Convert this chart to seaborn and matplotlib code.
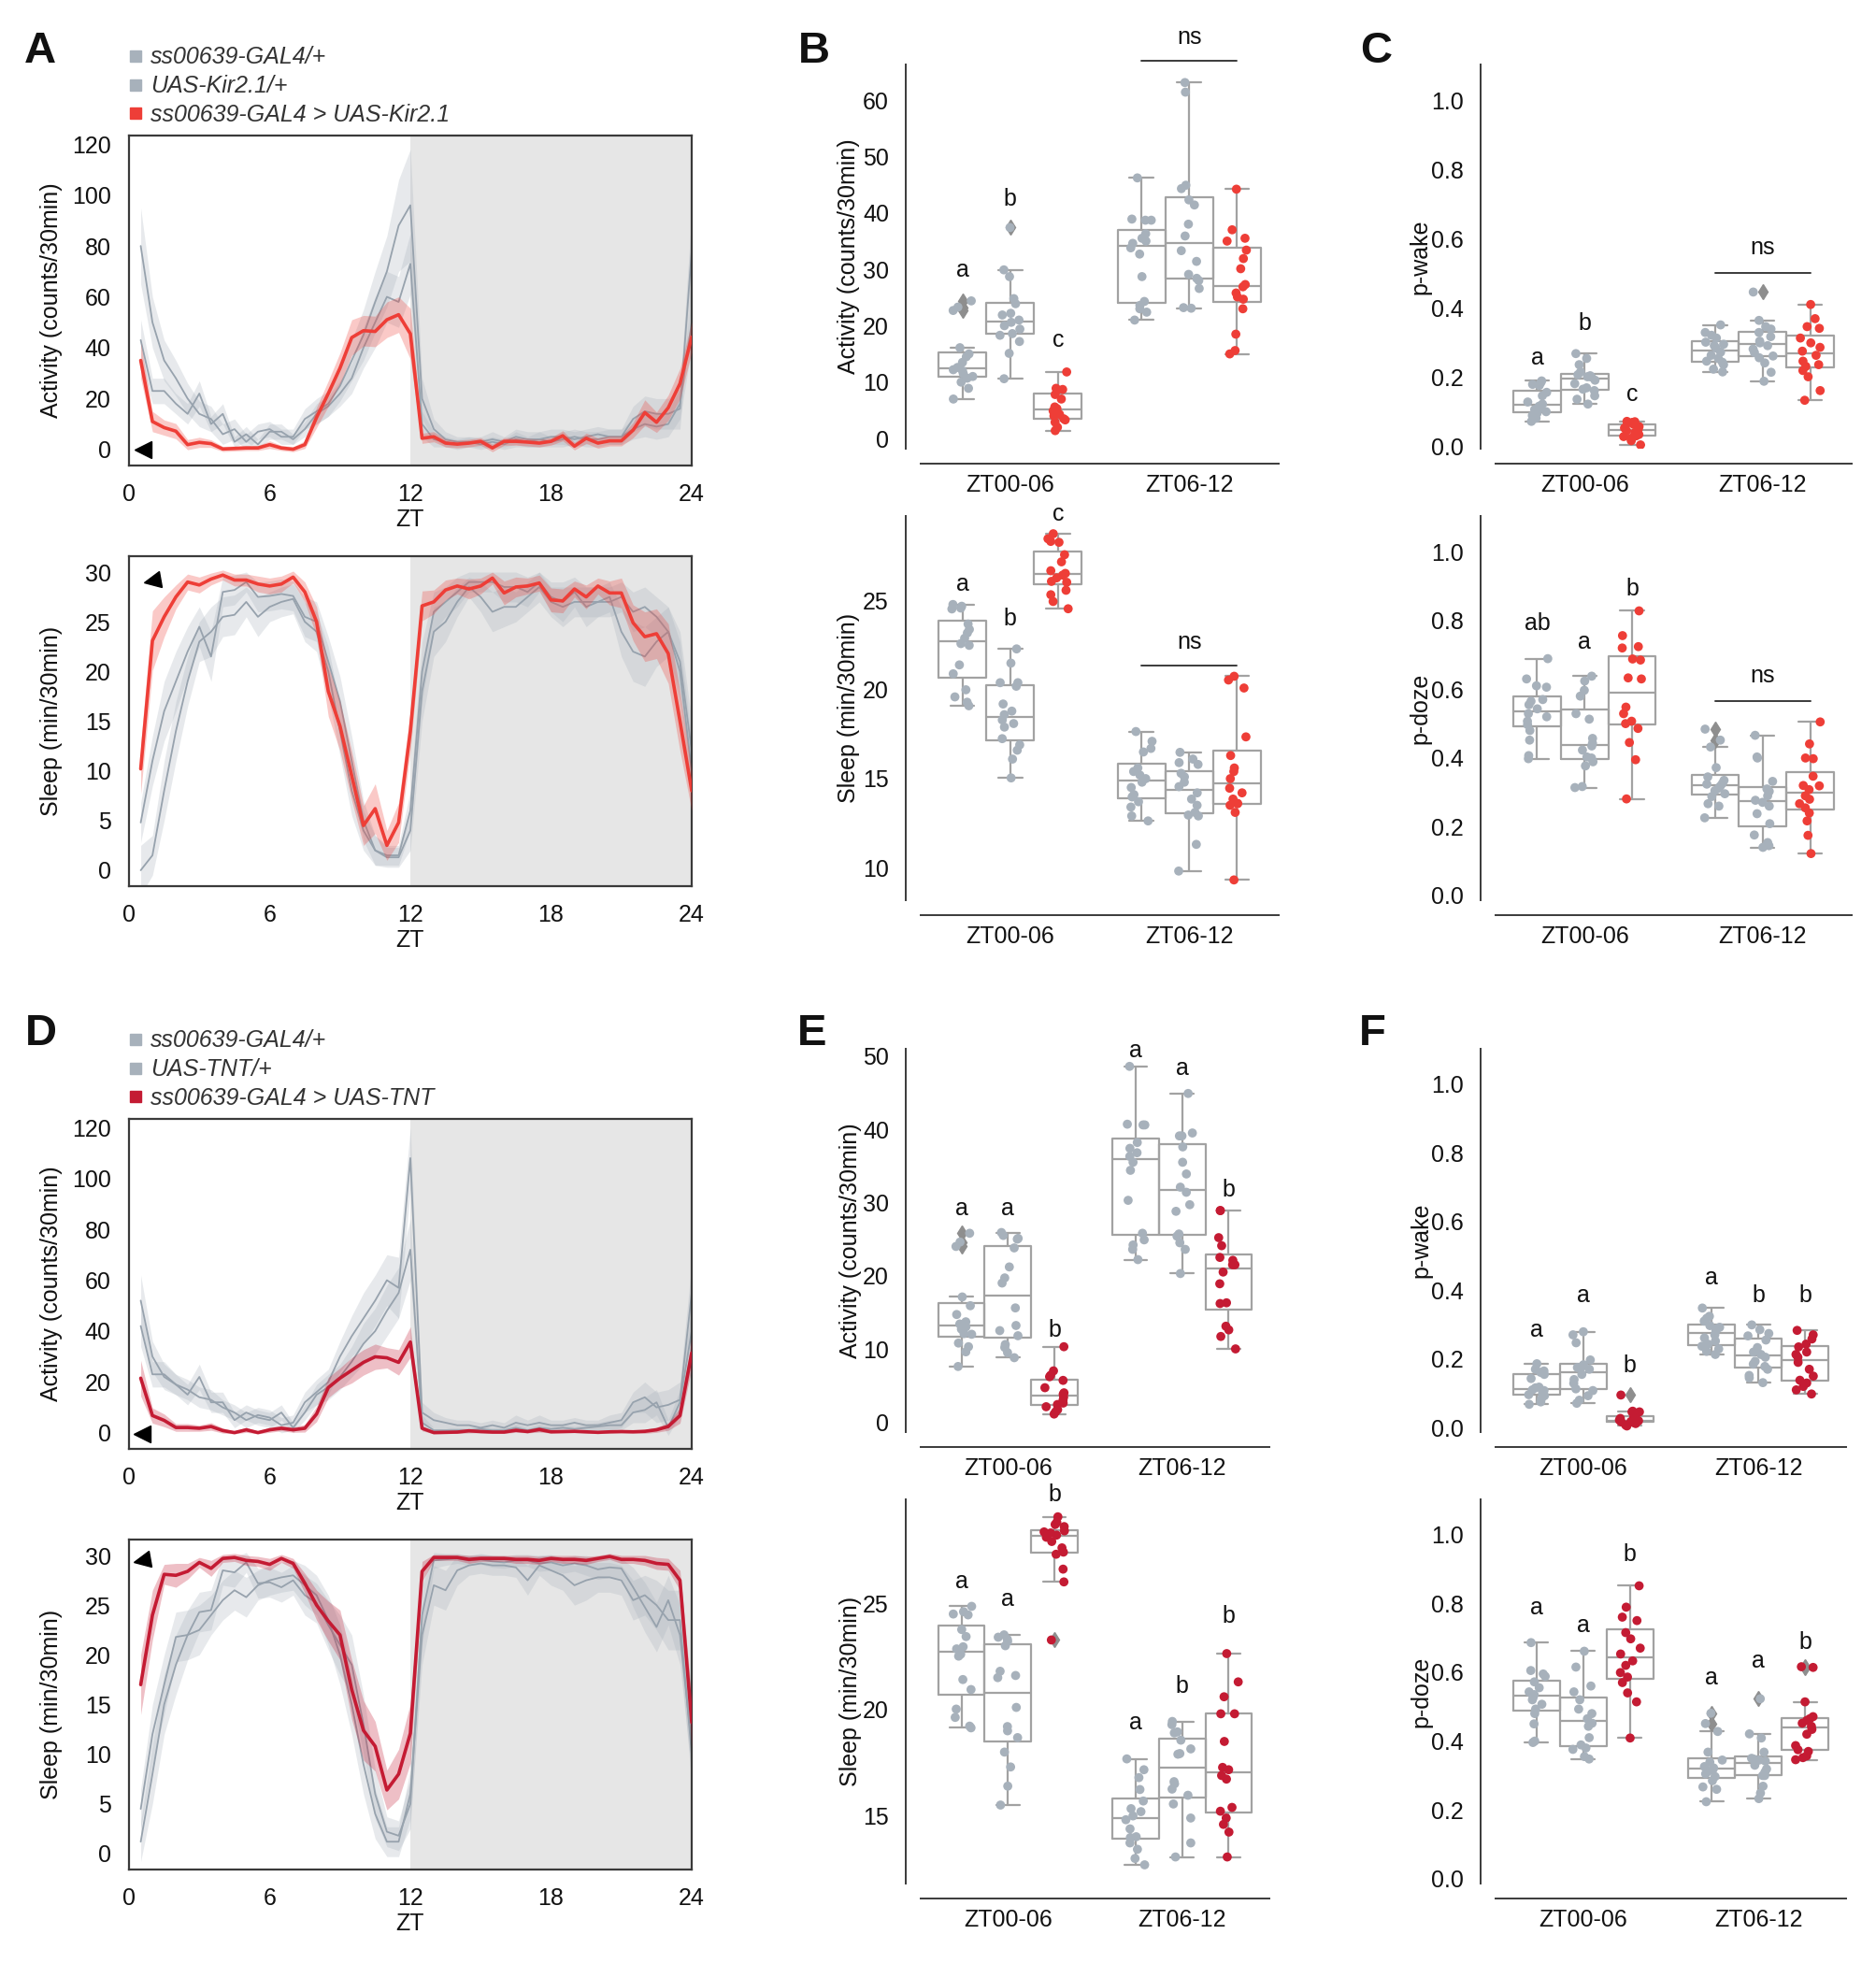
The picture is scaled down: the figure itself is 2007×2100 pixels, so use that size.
import numpy as np
import pandas as pd
import matplotlib
matplotlib.use("Agg")
import matplotlib.pyplot as plt
import seaborn as sns
from matplotlib.lines import Line2D
from matplotlib.markers import MarkerStyle
from matplotlib.transforms import Affine2D
from matplotlib.ticker import FormatStrFormatter

np.random.seed(7)

# ======================= DATA =======================
ZT = np.arange(1, 49) * 0.5          # 30-min bins, ZT 0.5 ... 24

PERIODS = ["ZT00-06", "ZT06-12"]
GENOS = ["GAL4/+", "UAS/+", "GAL4>UAS"]

kir_labels = ["ss00639-GAL4/+", "UAS-Kir2.1/+", "ss00639-GAL4 > UAS-Kir2.1"]
tnt_labels = ["ss00639-GAL4/+", "UAS-TNT/+", "ss00639-GAL4 > UAS-TNT"]

# ---- Kir2.1 activity time course (counts/30min) ----
kir_act_g = [80, 50, 35, 28, 20, 14, 12, 6, 8, 3, 7, 8, 5, 5, 12, 15, 18, 25, 35, 45, 58, 70, 88, 96,
             20, 8, 4, 3, 3, 3, 4, 3, 5, 4, 4, 5, 5, 4, 5, 6, 5, 5, 12, 15, 14, 14, 16, 78]
kir_act_g_sem = [15, 10, 8, 7, 6, 5, 5, 4, 4, 3, 3, 3, 3, 3, 4, 5, 5, 6, 8, 10, 12, 14, 18, 22,
                 8, 4, 3, 2, 2, 2, 3, 2, 3, 3, 3, 3, 3, 3, 3, 3, 3, 3, 5, 6, 6, 6, 8, 15]
kir_act_u = [43, 23, 23, 18, 14, 22, 10, 14, 3, 6, 2, 7, 7, 4, 8, 14, 17, 22, 28, 40, 50, 60, 58, 73,
             10, 4, 3, 2, 3, 2, 3, 2, 4, 3, 4, 3, 4, 5, 4, 4, 5, 5, 8, 10, 9, 10, 18, 50]
kir_act_u_sem = [8, 5, 5, 4, 4, 5, 3, 4, 2, 3, 2, 3, 3, 2, 3, 4, 4, 5, 6, 8, 10, 10, 10, 12,
                 5, 3, 2, 2, 2, 2, 2, 2, 3, 2, 3, 2, 3, 3, 3, 3, 3, 3, 4, 5, 5, 5, 6, 10]
kir_act_x = [35, 11, 8.6, 7.2, 1.9, 2.8, 2.3, 0.2, 0.4, 0.6, 0.6, 1.9, 0.6, 0.1, 1.9, 12.6, 22, 32, 44,
             46.7, 46.4, 51, 53, 45.5, 4.4, 5.0, 2.5, 2.1, 2.5, 3.2, 0.6, 3.2, 3.2, 2.9, 2.5, 3.2, 5.4,
             1.3, 4.4, 2.5, 3.4, 3.4, 7.6, 14.5, 10.7, 16.4, 25.9, 44.2]
kir_act_x_sem = [7, 4, 3, 3, 2, 2, 1.5, 1, 1, 1, 1, 1.5, 1, 1, 1.5, 4, 5, 6, 7, 6, 6, 7, 7, 10,
                 2, 2, 1.5, 1.5, 1.5, 1.5, 1.5, 1.5, 1.5, 1.5, 1.5, 1.5, 2, 1.5, 2, 2, 2, 2, 3, 5, 4, 5, 6, 6]

# ---- Kir2.1 sleep time course (min/30min) ----
kir_slp_g = [0.0, 1.5, 8, 14, 19, 23, 24, 25.5, 25.7, 27, 25.5, 26.5, 27, 27.3, 25, 24, 20, 14, 8, 4,
             2, 1.3, 1.3, 4, 18, 24, 25, 27, 28.5, 27.5, 26, 26.5, 26.5, 27.5, 28.5, 27, 26.5, 27, 27,
             27, 27.5, 24, 22, 21.5, 23, 24, 20, 10]
kir_slp_g_sem = [2.5, 2, 3, 3, 2.5, 2, 2.5, 2, 2, 1.5, 2, 1.5, 1.5, 1.5, 2, 2, 2.5, 2.5, 2.5, 2, 1.5, 1,
                 1, 2, 3, 2.5, 2, 1.5, 1, 1.5, 2, 2, 1.5, 1.5, 1.5, 1.5, 2, 1.5, 1.5, 1.5, 1.5, 2.5, 3,
                 3, 2.5, 2.5, 3, 3]
kir_slp_u = [4.8, 11, 16, 19, 22, 24.5, 21.5, 28, 28.2, 29, 27.5, 27.6, 27.8, 27.6, 25.5, 25, 21, 17,
             11, 5, 2, 1.5, 1.5, 6, 20, 26, 27, 28, 29, 29, 29, 28.5, 28.5, 28, 29, 27.5, 27, 28, 26.5,
             27, 27, 27.5, 26, 26.5, 25.5, 24, 21, 12]
kir_slp_u_sem = [2, 2.5, 3, 3, 2.5, 2, 2.5, 1.5, 1.5, 1, 1.5, 1.5, 1.5, 1.5, 2, 2, 2.5, 2.5, 2.5, 2,
                 1.5, 1, 1, 2, 3, 2, 1.5, 1.5, 1, 1, 1, 1.5, 1.5, 1.5, 1, 1.5, 2, 1.5, 2, 1.5, 1.5, 1.5,
                 2, 2, 2, 2.5, 3, 3]
kir_slp_x = [10.2, 23.1, 25.5, 27.5, 29.0, 28.7, 29.3, 29.7, 29.2, 29.2, 28.8, 28.6, 28.8, 29.5, 28.0,
             25.0, 18.0, 14.5, 9.5, 4.5, 6.2, 2.5, 4.8, 14.0, 26.6, 27.0, 28.2, 28.6, 28.3, 28.6, 29.4,
             27.9, 28.5, 28.6, 28.9, 27.2, 27.1, 28.3, 27.5, 28.6, 27.9, 27.9, 24.9, 23.5, 23.8, 21.8,
             15.0, 8.0]
kir_slp_x_sem = [2.5, 3, 2, 1.2, 0.8, 0.8, 0.6, 0.5, 0.6, 0.6, 0.8, 0.8, 0.8, 0.6, 1.0, 1.5, 2.5, 2.5,
                 2.5, 2.0, 2.5, 1.5, 2.0, 2.0, 1.5, 1.2, 1.0, 0.8, 1.0, 0.8, 0.6, 1.2, 1.0, 0.8, 0.8,
                 1.2, 1.2, 0.8, 1.2, 0.8, 1.2, 1.5, 1.8, 2.5, 2.5, 3.0, 3.0, 2.0]

# ---- TNT activity time course ----
tnt_act_g = [52, 30, 22, 19, 17, 14, 13, 10, 8, 5, 7, 6, 3, 4, 12, 16, 20, 30, 38, 45, 52, 60, 57, 108,
             8, 5, 4, 3, 3, 2, 3, 2, 4, 3, 4, 3, 3, 4, 3, 3, 4, 5, 12, 14, 10, 11, 13, 55]
tnt_act_g_sem = [10, 6, 5, 4, 4, 4, 4, 3, 3, 3, 3, 3, 3, 3, 4, 5, 5, 6, 8, 10, 10, 10, 12, 12,
                 4, 3, 2, 2, 2, 2, 2, 2, 3, 2, 3, 2, 2, 2, 2, 2, 3, 3, 4, 6, 6, 6, 7, 12]
tnt_act_u = [42, 23, 23, 19, 15, 22, 12, 12, 5, 8, 6, 5, 8, 2, 8, 15, 18, 22, 28, 35, 40, 48, 55, 72,
             4, 1, 1, 1, 1, 1.5, 1, 1, 2, 1, 2, 1.5, 2, 1.5, 2, 2.5, 3, 3, 8, 9, 12, 2, 12, 40]
tnt_act_u_sem = [8, 5, 5, 4, 4, 5, 4, 4, 3, 3, 3, 3, 3, 2, 3, 4, 5, 5, 6, 8, 9, 10, 10, 12,
                 3, 1, 1, 1, 1, 1, 1, 1, 1.5, 1, 1.5, 1, 1.5, 1, 1.5, 1.5, 2, 2, 4, 5, 5, 3, 5, 10]
tnt_act_x = [21.5, 6.8, 4.9, 2.1, 2.1, 1.8, 2.5, 0.9, 0.1, 1.2, 0.1, 1.2, 1.8, 1.2, 1.8, 7.4, 17.8,
             21.5, 24.6, 27.7, 29.9, 29.5, 27.7, 35.7, 1.8, 0.1, 0.2, 0.3, 0.8, 0.5, 0.3, 0.3, 1.0, 0.5,
             1.3, 0.4, 0.5, 0.6, 0.4, 0.2, 0.4, 0.5, 0.4, 0.6, 1.2, 2.5, 6.8, 31.4]
tnt_act_x_sem = [7, 3, 2.5, 1.5, 1.5, 1.2, 1.5, 1, 0.5, 1, 0.5, 1, 1, 1, 1.5, 3, 4, 4, 5, 5, 5, 4, 5, 6,
                 1, 0.5, 0.5, 0.5, 0.8, 0.5, 0.5, 0.5, 0.8, 0.5, 1, 0.5, 0.5, 0.5, 0.5, 0.5, 0.5, 0.5,
                 0.5, 0.8, 1, 1.5, 3, 6]

# ---- TNT sleep time course ----
tnt_slp_g = [1.2, 8, 15, 19, 22, 22.5, 24, 25.5, 26.5, 25.8, 27, 27.5, 27.8, 28, 27, 26, 23.5, 20, 15,
             9, 4, 1.2, 1.2, 6, 22, 27, 26.5, 28.5, 29, 29.2, 29, 29, 28.8, 27.5, 29, 28.5, 28, 27, 27.5,
             27.8, 27.8, 27.5, 25.5, 26, 25, 23.5, 23.5, 10]
tnt_slp_g_sem = [2, 3, 3, 3, 2.5, 2.5, 2, 2, 2, 2, 1.5, 1.5, 1.5, 1.5, 2, 2, 2.5, 3, 3, 3, 2.5, 1.5,
                 1.5, 2.5, 3, 2, 2, 1.5, 1, 1, 1, 1, 1, 1.5, 1, 1.5, 1.5, 2, 2, 1.5, 1.5, 1.5, 2, 2,
                 2.5, 3, 3, 3]
tnt_slp_u = [4.5, 12, 17, 21.8, 22, 24.3, 24.5, 28.5, 28.3, 29.3, 27.2, 27.3, 26.8, 27.5, 26, 25.2, 23,
             21, 19, 13, 6, 2.2, 1.8, 5, 24, 29.5, 29.6, 29.7, 29.5, 29.6, 29.4, 29.3, 29.5, 29.5, 29.2,
             29.3, 29.0, 29.2, 29.0, 28.6, 28.8, 28.7, 26.8, 24.8, 22.8, 25.5, 22, 11]
tnt_slp_u_sem = [2, 3, 3, 2.5, 2.5, 2, 2, 1.5, 1.5, 1, 1.5, 1.5, 1.5, 1.5, 2, 2, 2.5, 3, 3, 3, 2.5, 1.5,
                 1.5, 2.5, 3, 0.8, 0.6, 0.5, 0.5, 0.5, 0.6, 0.6, 0.6, 0.6, 0.8, 0.8, 0.8, 0.8, 1, 1, 1,
                 1, 2, 2.5, 2.5, 2.5, 3, 3]
tnt_slp_x = [17, 24, 28.1, 28, 28.4, 29.3, 28.7, 29.7, 29.8, 29.5, 29.4, 29.1, 29.7, 29.2, 27.2, 25,
             23.4, 22, 16.5, 12.4, 10.8, 6.4, 8.0, 12.1, 28.4, 29.8, 29.8, 29.8, 29.6, 29.7, 29.7, 29.7,
             29.6, 29.6, 29.5, 29.7, 29.6, 29.6, 29.5, 29.7, 29.9, 29.6, 29.6, 29.5, 29.2, 29.1, 27.5,
             13.2]
tnt_slp_x_sem = [3, 2.5, 1, 1.2, 0.8, 0.5, 0.8, 0.4, 0.4, 0.5, 0.5, 0.6, 0.4, 0.5, 1, 1.5, 2, 2.5, 3, 3,
                 2.5, 2, 2.5, 3, 1, 0.3, 0.3, 0.3, 0.4, 0.3, 0.3, 0.3, 0.4, 0.4, 0.4, 0.3, 0.4, 0.4,
                 0.4, 0.3, 0.3, 0.4, 0.4, 0.5, 0.6, 0.6, 1.0, 2.5]

# ---- per-fly values: Kir2.1 ----
kir_act_00_g = [7.0, 8.9, 10.0, 10.7, 11.0, 11.5, 12.0, 12.2, 12.6, 13.5, 14.5, 15.0, 16.1, 22.7, 23.3, 24.4]
kir_act_00_u = [10.6, 15.1, 17.2, 18.3, 18.6, 19.4, 20.0, 20.6, 21.0, 21.9, 22.2, 23.9, 24.8, 28.7, 29.9, 37.4]
kir_act_00_x = [1.4, 2.0, 2.9, 3.3, 3.5, 4.0, 4.3, 4.9, 5.3, 5.6, 7.0, 7.8, 8.6, 8.7, 8.9, 11.8]
kir_act_06_g = [21.0, 22.4, 23.0, 23.6, 24.3, 28.7, 32.7, 33.8, 34.6, 35.0, 35.5, 36.3, 38.7, 38.7, 38.9, 46.2]
kir_act_06_u = [23.1, 23.2, 26.6, 28.0, 28.4, 29.1, 31.4, 33.3, 35.9, 38.0, 41.4, 42.3, 44.3, 44.9, 61.4, 63.1]
kir_act_06_x = [15.0, 15.6, 18.5, 23.0, 24.7, 25.1, 25.8, 26.9, 27.3, 30.1, 31.9, 33.4, 35.0, 35.5, 37.0, 44.2]

kir_slp_00_g = [19.1, 19.3, 19.6, 20.0, 20.9, 21.4, 22.5, 22.6, 22.9, 23.2, 23.4, 23.7, 24.55, 24.6, 24.7, 24.8]
kir_slp_00_u = [15.04, 16.1, 16.6, 16.9, 17.25, 17.9, 18.1, 18.3, 18.6, 18.8, 19.2, 20.2, 20.4, 20.4, 21.5, 22.3]
kir_slp_00_x = [24.56, 24.97, 25.35, 25.6, 26.05, 26.1, 26.3, 26.45, 26.55, 26.7, 27.2, 27.6, 28.3, 28.35, 28.5, 28.78]
kir_slp_06_g = [12.62, 12.9, 13.4, 13.7, 13.97, 14.1, 14.5, 14.8, 15.0, 15.2, 15.4, 15.6, 16.5, 16.7, 17.1, 17.65]
kir_slp_06_u = [9.8, 11.3, 12.9, 12.95, 13.1, 13.5, 13.85, 14.2, 14.55, 14.8, 15.1, 15.3, 15.8, 15.9, 16.1, 16.48]
kir_slp_06_x = [9.3, 13.1, 13.5, 13.6, 13.6, 13.85, 14.2, 14.46, 15.0, 15.4, 15.6, 16.3, 17.35, 20.1, 20.55, 20.76]

kir_wake_00_g = [0.071, 0.080, 0.088, 0.095, 0.099, 0.105, 0.110, 0.115, 0.121, 0.127, 0.145, 0.155, 0.175, 0.178, 0.183, 0.188]
kir_wake_00_u = [0.121, 0.135, 0.145, 0.160, 0.164, 0.168, 0.180, 0.190, 0.199, 0.200, 0.203, 0.206, 0.214, 0.235, 0.253, 0.267]
kir_wake_00_x = [0.003, 0.015, 0.022, 0.027, 0.029, 0.033, 0.038, 0.044, 0.048, 0.052, 0.056, 0.062, 0.066, 0.068, 0.070, 0.071]
kir_wake_06_g = [0.214, 0.222, 0.235, 0.242, 0.245, 0.253, 0.262, 0.271, 0.283, 0.290, 0.294, 0.300, 0.312, 0.320, 0.328, 0.350]
kir_wake_06_u = [0.187, 0.213, 0.240, 0.255, 0.260, 0.270, 0.280, 0.290, 0.298, 0.303, 0.316, 0.328, 0.338, 0.345, 0.363, 0.445]
kir_wake_06_x = [0.132, 0.160, 0.200, 0.218, 0.230, 0.235, 0.245, 0.262, 0.274, 0.285, 0.298, 0.312, 0.340, 0.345, 0.368, 0.409]

kir_doze_00_g = [0.398, 0.407, 0.452, 0.480, 0.497, 0.507, 0.520, 0.529, 0.543, 0.555, 0.565, 0.570, 0.606, 0.610, 0.630, 0.689]
kir_doze_00_u = [0.314, 0.317, 0.377, 0.389, 0.400, 0.403, 0.423, 0.435, 0.443, 0.457, 0.513, 0.529, 0.580, 0.597, 0.624, 0.638]
kir_doze_00_x = [0.281, 0.395, 0.445, 0.486, 0.500, 0.507, 0.529, 0.548, 0.630, 0.633, 0.685, 0.688, 0.720, 0.724, 0.756, 0.828]
kir_doze_06_g = [0.226, 0.260, 0.267, 0.288, 0.296, 0.305, 0.312, 0.318, 0.324, 0.326, 0.335, 0.345, 0.372, 0.432, 0.452, 0.484]
kir_doze_06_u = [0.140, 0.145, 0.154, 0.176, 0.209, 0.238, 0.260, 0.271, 0.277, 0.290, 0.303, 0.310, 0.332, 0.400, 0.403, 0.466]
kir_doze_06_x = [0.122, 0.175, 0.217, 0.240, 0.255, 0.267, 0.280, 0.290, 0.308, 0.319, 0.320, 0.347, 0.398, 0.400, 0.441, 0.505]

# ---- per-fly values: TNT ----
tnt_act_00_g = [7.6, 9.6, 10.3, 10.8, 12.0, 12.1, 12.7, 13.0, 13.4, 13.7, 14.7, 15.9, 17.1, 24.0, 24.6, 25.8]
tnt_act_00_u = [8.8, 9.5, 10.2, 10.6, 11.8, 12.5, 13.2, 15.6, 19.0, 19.7, 21.2, 23.8, 25.0, 25.1, 25.5, 25.9]
tnt_act_00_x = [1.1, 1.4, 1.7, 2.1, 2.4, 2.6, 3.0, 3.4, 3.8, 4.0, 4.7, 5.7, 6.2, 6.4, 7.0, 10.3]
tnt_act_06_g = [22.2, 23.6, 24.2, 24.9, 25.8, 30.3, 34.4, 35.5, 36.3, 36.8, 37.4, 38.2, 40.6, 40.6, 40.7, 48.6]
tnt_act_06_u = [20.3, 23.6, 24.5, 25.4, 25.7, 28.8, 29.7, 31.4, 32.1, 33.9, 35.5, 37.6, 39.1, 39.1, 39.5, 44.9]
tnt_act_06_x = [10.0, 11.7, 12.6, 13.1, 16.2, 16.3, 18.9, 20.5, 21.5, 21.5, 22.1, 22.5, 24.1, 25.2, 28.9, 28.9]

tnt_slp_00_g = [19.14, 19.22, 19.63, 20.02, 20.94, 21.41, 22.51, 22.6, 22.85, 22.95, 23.43, 23.76, 24.45, 24.49, 24.6, 24.85]
tnt_slp_00_u = [15.51, 16.4, 17.3, 18.0, 18.68, 19.0, 19.2, 20.1, 21.5, 21.6, 21.8, 23.0, 23.2, 23.3, 23.4, 23.51]
tnt_slp_00_x = [23.27, 26.0, 26.6, 27.3, 27.4, 27.6, 27.9, 28.1, 28.2, 28.3, 28.35, 28.4, 28.6, 28.7, 28.8, 29.06]
tnt_slp_06_g = [12.7, 13.0, 13.43, 13.73, 13.98, 14.02, 14.39, 14.82, 15.0, 15.2, 15.34, 15.7, 16.24, 16.8, 17.17, 17.68]
tnt_slp_06_u = [13.07, 13.73, 14.9, 15.56, 15.97, 16.26, 16.51, 16.61, 17.9, 17.93, 18.15, 18.56, 18.9, 18.95, 19.29, 19.44]
tnt_slp_06_x = [13.07, 14.24, 14.6, 14.9, 15.22, 15.4, 16.73, 16.9, 17.17, 17.28, 18.5, 19.8, 19.8, 20.6, 21.3, 22.63]

tnt_wake_00_g = [0.068, 0.075, 0.084, 0.093, 0.096, 0.100, 0.108, 0.110, 0.116, 0.118, 0.143, 0.155, 0.161, 0.165, 0.170, 0.186]
tnt_wake_00_u = [0.071, 0.080, 0.093, 0.108, 0.113, 0.129, 0.140, 0.155, 0.170, 0.175, 0.179, 0.183, 0.197, 0.247, 0.270, 0.279]
tnt_wake_00_x = [0.005, 0.008, 0.012, 0.015, 0.017, 0.018, 0.019, 0.020, 0.022, 0.024, 0.027, 0.030, 0.046, 0.046, 0.048, 0.095]
tnt_wake_06_g = [0.213, 0.222, 0.229, 0.237, 0.243, 0.252, 0.261, 0.270, 0.282, 0.288, 0.292, 0.297, 0.310, 0.318, 0.324, 0.348]
tnt_wake_06_u = [0.131, 0.145, 0.152, 0.170, 0.178, 0.185, 0.193, 0.205, 0.213, 0.220, 0.233, 0.255, 0.267, 0.274, 0.285, 0.299]
tnt_wake_06_x = [0.098, 0.110, 0.120, 0.130, 0.138, 0.150, 0.170, 0.190, 0.205, 0.213, 0.220, 0.235, 0.243, 0.258, 0.270, 0.283]

tnt_doze_00_g = [0.396, 0.400, 0.450, 0.480, 0.493, 0.507, 0.520, 0.527, 0.535, 0.543, 0.555, 0.572, 0.588, 0.595, 0.605, 0.686]
tnt_doze_00_u = [0.348, 0.355, 0.376, 0.380, 0.389, 0.410, 0.443, 0.452, 0.465, 0.480, 0.493, 0.520, 0.543, 0.560, 0.615, 0.661]
tnt_doze_00_x = [0.409, 0.514, 0.540, 0.570, 0.586, 0.599, 0.620, 0.633, 0.653, 0.670, 0.697, 0.715, 0.750, 0.760, 0.789, 0.851]
tnt_doze_06_g = [0.224, 0.260, 0.267, 0.285, 0.297, 0.305, 0.312, 0.317, 0.322, 0.326, 0.339, 0.345, 0.368, 0.428, 0.451, 0.481]
tnt_doze_06_u = [0.233, 0.249, 0.269, 0.300, 0.300, 0.310, 0.319, 0.330, 0.342, 0.345, 0.348, 0.350, 0.368, 0.409, 0.421, 0.523]
tnt_doze_06_x = [0.346, 0.352, 0.357, 0.370, 0.375, 0.387, 0.420, 0.434, 0.443, 0.452, 0.460, 0.465, 0.471, 0.514, 0.614, 0.616]

# significance letters: (period index, genotype index, text, y)
kir_act_letters = [(0, 0, "a", 29.9), (0, 1, "b", 42.5), (0, 2, "c", 17.5)]
kir_slp_letters = [(0, 0, "a", 25.93), (0, 1, "b", 24.0), (0, 2, "c", 29.87)]
kir_wake_letters = [(0, 0, "a", 0.253), (0, 1, "b", 0.354), (0, 2, "c", 0.150)]
kir_doze_letters = [(0, 0, "ab", 0.792), (0, 1, "a", 0.737), (0, 2, "b", 0.893)]
tnt_act_letters = [(0, 0, "a", 29.2), (0, 1, "a", 29.2), (0, 2, "b", 12.5),
                   (1, 0, "a", 50.8), (1, 1, "a", 48.3), (1, 2, "b", 31.7)]
tnt_slp_letters = [(0, 0, "a", 26.02), (0, 1, "a", 25.18), (0, 2, "b", 30.12),
                   (1, 0, "a", 19.39), (1, 1, "b", 21.08), (1, 2, "b", 24.37)]
tnt_wake_letters = [(0, 0, "a", 0.283), (0, 1, "a", 0.385), (0, 2, "b", 0.181),
                    (1, 0, "a", 0.435), (1, 1, "b", 0.385), (1, 2, "b", 0.385)]
tnt_doze_letters = [(0, 0, "a", 0.787), (0, 1, "a", 0.735), (0, 2, "b", 0.941),
                    (1, 0, "a", 0.584), (1, 1, "a", 0.633), (1, 2, "b", 0.686)]

# ======================= STYLE =======================
sns.set_theme(style="white")
plt.rcParams["font.family"] = ["Liberation Sans", "DejaVu Sans"]
plt.rcParams["text.color"] = "#111111"
plt.rcParams["axes.labelcolor"] = "#111111"
plt.rcParams["xtick.color"] = "#111111"
plt.rcParams["ytick.color"] = "#111111"

GRAY_LINE = "#97A2AD"
GRAY_BAND = "#A9B3BD"
GRAY_PT = "#A7B1BB"
RED_KIR = "#EE3E37"
RED_TNT = "#C41B33"
BOX_C = "#A2A2A2"
FLIER_C = "#8E8E8E"
SPINE_C = "#3A3A3A"

W, H = 2008, 2100
fig = plt.figure(figsize=(W / 100, H / 100), dpi=100)


def rect(l, t, r, b):
    return [l / W, 1 - b / H, (r - l) / W, (b - t) / H]


def ts_panel(ax, series, ylim, yticks, ylabel, tri_xy, tri_rot):
    ax.axvspan(12, 24, color="#E6E6E6", lw=0, zorder=0)
    for mean, sem, col, band, lw, z in series:
        m = np.asarray(mean, float)
        s = np.asarray(sem, float)
        ax.fill_between(ZT, m - s, m + s, color=band, alpha=0.28, lw=0, zorder=z)
        sns.lineplot(x=ZT, y=m, color=col, linewidth=lw, ax=ax, zorder=z + 0.5)
    ax.set_xlim(0, 24)
    ax.set_ylim(*ylim)
    ax.set_xticks([0, 6, 12, 18, 24])
    ax.set_yticks(yticks)
    ax.tick_params(axis="both", length=0, labelsize=18)
    ax.tick_params(axis="x", pad=14)
    ax.tick_params(axis="y", pad=14)
    ax.set_xlabel("ZT", fontsize=18, labelpad=2)
    ax.set_ylabel(ylabel, fontsize=18)
    ax.yaxis.set_label_coords(-0.118, 0.5)
    for sp in ax.spines.values():
        sp.set_visible(True)
        sp.set_color(SPINE_C)
        sp.set_linewidth(1.6)
    mk = MarkerStyle("<", transform=Affine2D().rotate_deg(tri_rot))
    ax.plot([tri_xy[0]], [tri_xy[1]], marker=mk, ms=13, color="black", ls="",
            clip_on=False, zorder=6)


def box_panel(ax, groups, red, ylim, yticks, ylabel, letters, ns=None, fmt=None, ylab_x=-0.17):
    rows = []
    for pi, p in enumerate(PERIODS):
        for gi, g in enumerate(GENOS):
            for v in groups[pi][gi]:
                rows.append((p, g, v))
    df = pd.DataFrame(rows, columns=["period", "geno", "value"])
    sns.boxplot(data=df, x="period", y="value", hue="geno", order=PERIODS, hue_order=GENOS,
                palette=[BOX_C, BOX_C, BOX_C], fill=False, width=0.8, gap=0, linewidth=1.6,
                flierprops=dict(marker="d", markerfacecolor=FLIER_C, markeredgecolor=FLIER_C,
                                markersize=8),
                legend=False, ax=ax)
    sns.stripplot(data=df, x="period", y="value", hue="geno", order=PERIODS, hue_order=GENOS,
                  palette={GENOS[0]: GRAY_PT, GENOS[1]: GRAY_PT, GENOS[2]: red},
                  dodge=True, jitter=0.18, size=7, linewidth=0, legend=False, ax=ax, zorder=3)
    ax.set_xlim(-0.5, 1.5)
    ax.set_ylim(*ylim)
    ax.set_yticks(yticks)
    if fmt:
        ax.yaxis.set_major_formatter(FormatStrFormatter(fmt))
    ax.set_xlabel("")
    ax.set_ylabel(ylabel, fontsize=18)
    ax.yaxis.set_label_coords(ylab_x, 0.5)
    ax.tick_params(axis="y", length=0, labelsize=18, pad=13)
    ax.tick_params(axis="x", length=0, labelsize=18, pad=8)
    sns.despine(ax=ax, offset=11.5)
    for side in ("left", "bottom"):
        ax.spines[side].set_color(SPINE_C)
        ax.spines[side].set_linewidth(1.4)
    off = 0.8 / 3
    for pi, gi, txt, y in letters:
        ax.text(pi + (gi - 1) * off, y, txt, ha="center", va="center", fontsize=18,
                clip_on=False)
    if ns is not None:
        pi, ty, ly = ns
        ax.text(pi, ty, "ns", ha="center", va="center", fontsize=18, clip_on=False)
        ax.plot([pi - off, pi + off], [ly, ly], color=SPINE_C, lw=1.4, clip_on=False)


# ---------------- time-course panels ----------------
ax_a1 = fig.add_axes(rect(138, 145, 740, 498))
ax_a2 = fig.add_axes(rect(138, 595, 740, 948))
ax_d1 = fig.add_axes(rect(138, 1197, 740, 1550))
ax_d2 = fig.add_axes(rect(138, 1647, 740, 2000))

ts_panel(ax_a1, [(kir_act_g, kir_act_g_sem, GRAY_LINE, GRAY_BAND, 1.3, 1),
                 (kir_act_u, kir_act_u_sem, GRAY_LINE, GRAY_BAND, 1.3, 1),
                 (kir_act_x, kir_act_x_sem, RED_KIR, RED_KIR, 2.6, 3)],
         (-6.3, 123.4), [0, 20, 40, 60, 80, 100, 120], "Activity (counts/30min)", (0.6, 0.0), 0)
ts_panel(ax_a2, [(kir_slp_g, kir_slp_g_sem, GRAY_LINE, GRAY_BAND, 1.3, 1),
                 (kir_slp_u, kir_slp_u_sem, GRAY_LINE, GRAY_BAND, 1.3, 1),
                 (kir_slp_x, kir_slp_x_sem, RED_KIR, RED_KIR, 2.6, 3)],
         (-1.6, 31.6), [0, 5, 10, 15, 20, 25, 30], "Sleep (min/30min)", (1.0, 29.2), 10)
ts_panel(ax_d1, [(tnt_act_g, tnt_act_g_sem, GRAY_LINE, GRAY_BAND, 1.3, 1),
                 (tnt_act_u, tnt_act_u_sem, GRAY_LINE, GRAY_BAND, 1.3, 1),
                 (tnt_act_x, tnt_act_x_sem, RED_TNT, RED_TNT, 2.6, 3)],
         (-6.3, 123.4), [0, 20, 40, 60, 80, 100, 120], "Activity (counts/30min)", (0.55, -0.6), 0)
ts_panel(ax_d2, [(tnt_slp_g, tnt_slp_g_sem, GRAY_LINE, GRAY_BAND, 1.3, 1),
                 (tnt_slp_u, tnt_slp_u_sem, GRAY_LINE, GRAY_BAND, 1.3, 1),
                 (tnt_slp_x, tnt_slp_x_sem, RED_TNT, RED_TNT, 2.6, 3)],
         (-1.6, 31.6), [0, 5, 10, 15, 20, 25, 30], "Sleep (min/30min)", (0.55, 29.5), 10)


def add_legend(ax, labels, red, bottom_px):
    handles = [Line2D([0], [0], marker="s", ls="", color=c, markersize=8)
               for c in (GRAY_PT, GRAY_PT, red)]
    ax.legend(handles, labels, loc="lower left", bbox_to_anchor=(136 / W, 1 - bottom_px / H),
              bbox_transform=fig.transFigure, frameon=False,
              prop=dict(style="italic", size=18), labelcolor="#333333",
              handlelength=0.7, handletextpad=0.3, labelspacing=0.27,
              borderpad=0, borderaxespad=0)


add_legend(ax_a1, kir_labels, RED_KIR, 135)
add_legend(ax_d1, tnt_labels, RED_TNT, 1187)

# ---------------- box panels ----------------
ax_b1 = fig.add_axes(rect(985, 69, 1368, 480))
ax_b2 = fig.add_axes(rect(985, 552, 1368, 963))
ax_c1 = fig.add_axes(rect(1600, 69, 1981, 480))
ax_c2 = fig.add_axes(rect(1600, 552, 1981, 963))
ax_e1 = fig.add_axes(rect(985, 1122, 1358, 1532))
ax_e2 = fig.add_axes(rect(985, 1604, 1358, 2015))
ax_f1 = fig.add_axes(rect(1600, 1122, 1975, 1532))
ax_f2 = fig.add_axes(rect(1600, 1604, 1975, 2015))

box_panel(ax_b1, [[kir_act_00_g, kir_act_00_u, kir_act_00_x], [kir_act_06_g, kir_act_06_u, kir_act_06_x]],
          RED_KIR, (-1.8, 66.3), [0, 10, 20, 30, 40, 50, 60], "Activity (counts/30min)",
          kir_act_letters, ns=(1, 71.1, 67.0))
box_panel(ax_b2, [[kir_slp_00_g, kir_slp_00_u, kir_slp_00_x], [kir_slp_06_g, kir_slp_06_u, kir_slp_06_x]],
          RED_KIR, (8.16, 29.78), [10, 15, 20, 25], "Sleep (min/30min)",
          kir_slp_letters, ns=(1, 22.7, 21.34))
box_panel(ax_c1, [[kir_wake_00_g, kir_wake_00_u, kir_wake_00_x], [kir_wake_06_g, kir_wake_06_u, kir_wake_06_x]],
          RED_KIR, (-0.008, 1.103), [0, 0.2, 0.4, 0.6, 0.8, 1.0], "p-wake",
          kir_wake_letters, ns=(1, 0.573, 0.499), fmt="%.1f", ylab_x=-0.18)
box_panel(ax_c2, [[kir_doze_00_g, kir_doze_00_u, kir_doze_00_x], [kir_doze_06_g, kir_doze_06_u, kir_doze_06_x]],
          RED_KIR, (-0.0136, 1.104), [0, 0.2, 0.4, 0.6, 0.8, 1.0], "p-doze",
          kir_doze_letters, ns=(1, 0.638, 0.566), fmt="%.1f", ylab_x=-0.18)
box_panel(ax_e1, [[tnt_act_00_g, tnt_act_00_u, tnt_act_00_x], [tnt_act_06_g, tnt_act_06_u, tnt_act_06_x]],
          RED_TNT, (-1.36, 51.0), [0, 10, 20, 30, 40, 50], "Activity (counts/30min)",
          tnt_act_letters)
box_panel(ax_e2, [[tnt_slp_00_g, tnt_slp_00_u, tnt_slp_00_x], [tnt_slp_06_g, tnt_slp_06_u, tnt_slp_06_x]],
          RED_TNT, (11.82, 29.88), [15, 20, 25], "Sleep (min/30min)",
          tnt_slp_letters)
box_panel(ax_f1, [[tnt_wake_00_g, tnt_wake_00_u, tnt_wake_00_x], [tnt_wake_06_g, tnt_wake_06_u, tnt_wake_06_x]],
          RED_TNT, (-0.0127, 1.102), [0, 0.2, 0.4, 0.6, 0.8, 1.0], "p-wake",
          tnt_wake_letters, fmt="%.1f", ylab_x=-0.18)
box_panel(ax_f2, [[tnt_doze_00_g, tnt_doze_00_u, tnt_doze_00_x], [tnt_doze_06_g, tnt_doze_06_u, tnt_doze_06_x]],
          RED_TNT, (-0.0136, 1.102), [0, 0.2, 0.4, 0.6, 0.8, 1.0], "p-doze",
          tnt_doze_letters, fmt="%.1f", ylab_x=-0.18)

# ---------------- panel letters ----------------
for txt, (x, y) in {"A": (43, 55), "B": (871, 55), "C": (1472, 55),
                    "D": (44, 1106), "E": (869, 1106), "F": (1468, 1106)}.items():
    fig.text(x / W, 1 - y / H, txt, fontsize=34, fontweight="bold", ha="center", va="center")

fig.savefig("out.png", dpi=100, facecolor="white")
